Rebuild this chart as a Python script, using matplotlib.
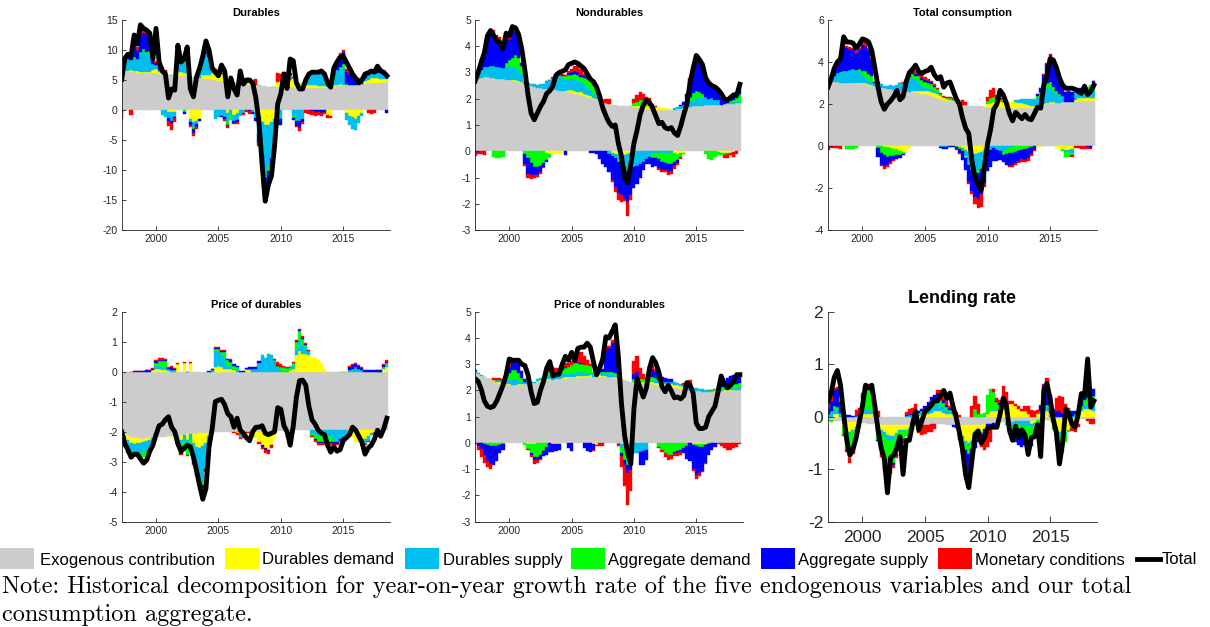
import numpy as np
import matplotlib.pyplot as plt
from matplotlib.patches import Rectangle
from matplotlib.lines import Line2D

plt.rcParams['font.family'] = ['Liberation Sans', 'DejaVu Sans']
plt.rcParams['axes.unicode_minus'] = False

# quarterly dates, 1997Q2 .. 2018Q3
quarters = 1997.25 + 0.25 * np.arange(86)
years = [2000, 2005, 2010, 2015]

labels = ['Exogenous contribution', 'Durables demand', 'Durables supply',
          'Aggregate demand', 'Aggregate supply', 'Monetary conditions']
colors = ['#cccccc', '#ffff00', '#00bfef', '#00ff00', '#0000ff', '#ff0000']

# ---------------- Durables ----------------
dur_total = [5.1, 8.6, 9.3, 8.9, 12.5, 11.0, 14.2, 13.6, 13.3, 12.8,
             8.5, 13.6, 8.0, 6.5, 6.0, 2.0, 3.5, 3.3, 10.8, 8.0,
             8.5, 10.5, 3.5, 2.2, 5.5, 7.0, 9.0, 11.5, 10.0, 7.0,
             6.3, 5.7, 7.5, 6.5, 2.2, 5.3, 3.5, 2.5, 6.5, 4.3,
             5.0, 5.0, 4.5, 2.0, -2.0, -9.0, -15.2, -12.5, -11.0, -6.0,
             1.0, 2.7, 6.0, 3.6, 8.5, 8.2, 4.5, 3.5, 3.5, 5.0,
             6.0, 6.3, 6.3, 6.3, 6.5, 6.0, 4.5, 3.8, 7.0, 8.0,
             8.8, 9.0, 8.0, 7.0, 6.0, 5.3, 4.5, 5.0, 6.0, 6.2,
             6.5, 6.3, 7.3, 6.5, 6.3, 5.7]
dur_exo = [6.4, 6.4, 6.35, 6.3, 6.3, 6.25, 6.2, 6.2, 6.15, 6.1,
           6.1, 6.1, 6.0, 6.0, 5.95, 5.9, 5.85, 5.8, 5.75, 5.7,
           5.65, 5.6, 5.55, 5.5, 5.45, 5.4, 5.3, 5.2, 5.1, 5.0,
           4.95, 4.9, 4.85, 4.8, 4.7, 4.6, 4.5, 4.45, 4.4, 4.35,
           4.3, 4.25, 4.2, 4.15, 4.1, 4.0, 3.95, 3.9, 3.9, 3.9,
           3.9, 3.85, 3.85, 3.8, 3.8, 3.8, 3.75, 3.75, 3.75, 3.7,
           3.7, 3.7, 3.7, 3.7, 3.72, 3.75, 3.8, 3.85, 3.9, 3.95,
           4.0, 4.05, 4.1, 4.15, 4.2, 4.25, 4.3, 4.35, 4.4, 4.45,
           4.5, 4.5, 4.55, 4.55, 4.6, 4.6]
dur_dd = [0, 0.2, 0.2, 0.3, 0.2, 0.2, 0.2, 0.2, 0.2, 0.2,
          0.6, 0.8, 0.3, 0.2, 0, -0.3, -0.4, -0.3, 0.8, 0.6,
          0.5, 0.6, -1.5, -2.0, -1.8, -1.5, 0.5, 0.6, 0.8, 1.2,
          1.5, 1.5, 1.2, 1.0, -0.5, 0.8, -0.8, -0.5, 0.5, 0.3,
          0.2, 0.2, 0, -0.3, -1.0, -2.0, -2.5, -2.5, -2.0, -1.5,
          0.8, 1.0, 1.5, 1.5, 1.2, 1.5, 1.0, 0.8, 0.8, 0.6,
          0.5, 0.5, 0.5, 0.3, 0.2, 0.2, -0.8, -1.0, 0.2, 0.3,
          0.3, 0.2, -0.5, -1.0, -1.2, -1.5, -1.0, -0.5, 0.5, 0.6,
          0.8, 0.8, 0.8, 0.7, 0.6, 0.5]
dur_ds = [0.3, 1.5, 2.0, 1.8, 2.0, 2.0, 3.0, 3.5, 3.0, 3.0,
          1.0, 0.6, 0.3, -0.8, -1.2, -1.0, -1.5, -0.8, 2.5, 2.0,
          2.5, 2.2, -0.5, -0.8, -0.5, 1.5, 3.0, 3.5, 3.0, 0.5,
          -1.5, -1.2, -1.0, -1.2, -1.5, -0.8, -1.0, -1.2, -1.0, -0.5,
          0.2, 0.2, -0.3, -1.0, -3.0, -5.0, -8.0, -7.0, -6.0, -3.0,
          -1.0, -1.5, 0.3, 0.5, 0.8, -1.0, -1.5, -1.8, -1.5, 1.0,
          1.5, 2.0, 2.0, 2.2, 2.0, 1.5, 0.5, 0.3, 1.5, 2.5,
          2.5, 3.0, -1.2, -1.5, -2.0, -1.8, -1.2, -0.5, 0.5, 0.8,
          1.0, 0.8, 0.8, 0.8, 0.6, 0.5]
dur_ad = [0, 0, 0, 0, 0.3, 0, 0.3, 0.2, 0.3, 0.5,
          0, 0, 0, 0, 0, 0, 0, 0, 0, 0,
          -0.3, 0, 0, -0.3, 0, 0, 0, 0, 0, 0,
          0, 0, 0, 0, -0.5, -0.8, 0, 0, 0, 0,
          0, 0, 0, 0, 0, -0.5, -0.8, -0.6, 0, 0,
          0, 0, 0, 0, 0, -0.3, -0.3, 0, 0, 0,
          0, 0, 0, 0, 0, 0, 0, 0, 0, 0,
          0.4, 0.5, 0.3, 0, 0, 0, 0, 0, 0, 0,
          0, 0, 0, 0.3, 0, 0.2]
dur_as = [-0.3, 0.3, 0.5, 1.0, 2.0, 1.5, 3.0, 2.8, 3.0, 2.5,
          0.5, 0.3, 0.5, 0.6, 0.5, -0.5, -0.5, -0.3, 0.2, 0.2,
          -0.3, 0.3, -0.5, -0.8, -0.5, -0.3, 0.2, 0.3, 0.2, 0,
          0, 0, -0.2, -0.3, -0.2, 0, -0.3, -0.3, 0, 0,
          0, -0.2, -0.3, -0.5, -1.5, -2.0, -2.5, -2.0, -1.5, -2.0,
          -1.5, -1.0, 0.2, 0.3, 0.2, -0.3, -0.8, -1.2, -0.5, 0,
          0, -0.2, -0.3, -0.3, -0.5, -0.3, 0, 0.3, 0.8, 1.0,
          2.0, 2.0, 2.0, 1.8, 1.5, 1.0, 0.8, 0.5, 0.3, 0.2,
          0.2, 0.3, 1.0, 0.5, 0.3, -0.5]
dur_mc = [-1.2, 0.2, 0.2, -0.8, 0.7, 0.5, 0.8, 0.7, 0.6, 0.5,
          0.1, 0.3, 0.2, 0.3, 0.2, -0.8, -1.0, -0.6, 0.2, 0.2,
          0.2, 0.2, -0.3, -0.4, -0.3, 0.2, 0.2, 0.2, 0.2, 0.3,
          0.3, 0.3, 0.2, -0.3, -0.3, 0.2, -0.3, -0.4, 0.3, -0.3,
          -0.3, -0.5, 0.2, 1.0, -0.5, -0.5, -1.0, -0.8, -0.5, -0.3,
          1.5, 1.2, 0.5, 0.3, 0.2, 0.2, -0.3, -0.5, -0.3, -0.5,
          -0.6, -0.7, -0.7, -0.6, -0.5, -0.4, -0.5, -0.3, 0.3, 0.3,
          0.3, 0.3, 0.4, 0.3, 0.2, 0.3, 0.3, 0.2, 0.2, -0.5,
          -0.6, -0.5, 0.3, 0.2, 0.2, 0.2]

# ---------------- Nondurables ----------------
nd_total = [2.67, 3.0, 3.4, 3.75, 4.4, 4.6, 4.4, 4.2, 4.15, 3.9,
            4.5, 4.4, 4.75, 4.7, 4.45, 3.9, 3.1, 2.15, 1.45, 1.2,
            1.45, 1.7, 1.9, 2.2, 2.3, 2.5, 2.9, 3.0, 3.05, 3.1,
            3.3, 3.35, 3.4, 3.35, 3.25, 3.15, 2.95, 2.75, 2.65, 2.45,
            2.1, 1.65, 1.35, 1.1, 0.95, 1.0, 0.3, -0.2, -1.0, -1.2,
            -0.5, 0.3, 0.8, 1.4, 1.75, 1.95, 1.85, 1.65, 1.35, 1.05,
            1.1, 0.9, 0.85, 0.9, 0.7, 0.6, 0.95, 1.4, 1.8, 2.6,
            3.15, 3.65, 3.5, 3.3, 2.8, 2.6, 2.5, 2.45, 2.35, 2.2,
            2.0, 1.95, 2.05, 2.15, 2.15, 2.55]
nd_exo = [2.68, 2.75, 2.8, 2.82, 2.82, 2.8, 2.78, 2.76, 2.75, 2.74,
          2.72, 2.7, 2.68, 2.66, 2.63, 2.6, 2.56, 2.52, 2.48, 2.45,
          2.42, 2.4, 2.38, 2.36, 2.35, 2.33, 2.32, 2.3, 2.28, 2.26,
          2.24, 2.22, 2.2, 2.17, 2.14, 2.1, 2.06, 2.02, 1.98, 1.94,
          1.9, 1.86, 1.82, 1.8, 1.77, 1.75, 1.74, 1.73, 1.72, 1.72,
          1.71, 1.7, 1.68, 1.66, 1.64, 1.62, 1.6, 1.59, 1.58, 1.57,
          1.56, 1.56, 1.56, 1.57, 1.58, 1.6, 1.62, 1.65, 1.68, 1.7,
          1.72, 1.73, 1.74, 1.74, 1.75, 1.75, 1.76, 1.76, 1.77, 1.78,
          1.79, 1.8, 1.8, 1.81, 1.82, 1.83]
nd_dd = [0, 0, 0, 0, 0, 0, 0, 0, 0, 0,
         0, 0.03, 0.04, 0.04, 0.04, 0.05, 0, 0, 0, 0,
         0, 0, 0, -0.05, -0.1, -0.12, -0.12, -0.1, -0.08, 0.05,
         0.08, 0.1, 0.1, 0.1, 0.1, 0.1, 0.08, 0.08, 0.05, 0.05,
         0.03, 0, 0, 0, -0.05, -0.1, -0.15, -0.2, -0.15, -0.1,
         -0.05, 0.03, 0.05, 0.08, 0.08, 0.1, 0.12, 0.12, 0.1, 0.1,
         0.1, 0.08, 0.06, 0.05, -0.05, -0.1, -0.08, -0.05, 0, 0,
         0, 0, 0, 0, 0, 0, 0, 0, -0.03, -0.05,
         -0.05, -0.05, -0.05, -0.03, 0, 0]
nd_ds = [0.1, 0.2, 0.3, 0.35, 0.35, 0.4, 0.45, 0.45, 0.45, 0.45,
         0.5, 0.5, 0.5, 0.5, 0.45, 0.3, 0.1, 0.08, 0.08, 0.1,
         0.12, 0.15, 0.2, 0.3, 0.35, 0.45, 0.5, 0.55, 0.5, 0.45,
         0.45, 0.45, 0.45, 0.45, 0.4, 0.35, 0.3, 0.25, 0.2, 0.15,
         0.1, 0.05, 0.03, -0.05, -0.08, -0.1, -0.15, -0.25, -0.35, -0.5,
         -0.6, -0.6, -0.55, -0.5, -0.4, -0.3, -0.2, -0.1, -0.05, -0.05,
         -0.05, -0.05, -0.05, -0.05, 0.05, 0.08, 0.1, 0.12, 0.15, 0.2,
         0.25, 0.3, 0.3, 0.3, 0.3, 0.25, 0.25, 0.2, 0.2, -0.05,
         -0.05, -0.05, 0.05, 0.05, 0.05, 0.05]
nd_ad = [0, 0, 0, 0.05, 0.05, 0.05, -0.2, -0.25, -0.25, -0.2,
         0.15, 0.25, 0.35, 0.45, 0.45, 0.3, -0.1, -0.25, -0.45, -0.6,
         -0.6, -0.55, -0.45, -0.3, -0.1, 0, 0, 0.05, 0.08, 0.1,
         0.12, 0.15, 0.2, 0.2, 0.2, 0.25, 0.3, 0.35, 0.3, 0.2,
         0.1, 0, 0, -0.05, -0.05, -0.05, -0.1, -0.1, -0.1, -0.15,
         -0.1, 0.1, 0.15, 0.2, 0.25, 0.2, 0.2, -0.15, -0.2, -0.25,
         -0.35, -0.4, -0.45, -0.45, -0.35, -0.25, -0.15, -0.05, 0.05, 0.15,
         0.25, 0.25, 0.2, 0.15, -0.1, -0.3, -0.35, -0.2, -0.1, -0.05,
         -0.05, 0.05, 0.05, 0.08, 0.15, 0.3]
nd_as = [-0.05, 0.15, 0.4, 0.65, 1.1, 1.25, 1.3, 1.1, 1.05, 0.8,
         0.9, 0.8, 1.0, 0.9, 0.8, 0.1, -0.4, -0.6, -0.45, -0.3,
         -0.3, -0.25, -0.15, -0.05, -0.02, 0, 0, 0.02, 0.05, -0.15,
         0.08, 0.1, 0.1, 0.1, 0.08, 0.05, 0.05, -0.05, -0.05, -0.1,
         -0.3, -0.5, -0.6, -0.7, -0.9, -1.1, -1.2, -1.1, -1.2, -1.2,
         -0.9, -0.8, -0.7, -0.5, -0.3, -0.2, -0.3, -0.35, -0.3, -0.35,
         -0.3, -0.25, -0.3, -0.25, -0.15, -0.1, 0.05, 0.1, 0.3, 0.7,
         1.0, 1.3, 1.2, 1.1, 0.8, 0.65, 0.55, 0.45, 0.35, 0.3,
         0.2, 0.1, 0.15, 0.25, 0.1, 0.35]
nd_mc = [-0.12, -0.12, -0.1, -0.15, 0.05, 0.08, 0.08, 0.1, 0.1, 0.08,
         0.18, 0.1, 0.15, 0.1, 0.05, 0, -0.05, -0.15, -0.15, -0.1,
         -0.08, -0.06, -0.05, 0, 0, 0.05, 0.05, 0.05, 0.05, 0.05,
         0.1, 0.12, 0.2, 0.25, 0.2, 0.1, 0.08, 0.05, 0.05, 0.05,
         0.1, 0.05, 0.15, 0.2, -0.1, -0.2, -0.25, -0.3, -0.1, -0.5,
         -0.2, 0.15, 0.25, 0.3, 0.2, 0.15, 0.1, 0.08, 0.06, -0.05,
         -0.08, -0.1, -0.12, -0.1, -0.12, -0.08, -0.05, 0, 0, 0.05,
         0.05, 0.08, 0.05, 0.03, 0, 0, 0, 0, 0, 0,
         -0.1, -0.15, -0.1, -0.2, -0.1, 0]

# ---------------- Total consumption ----------------
tc_total = [2.8, 3.2, 3.7, 4.0, 4.15, 5.2, 4.95, 4.95, 4.9, 4.65,
            4.85, 5.1, 5.05, 4.95, 4.55, 3.7, 2.8, 2.1, 1.75, 2.0,
            2.15, 2.35, 2.65, 2.2, 2.35, 3.05, 3.5, 3.65, 3.85, 3.55,
            3.45, 3.55, 3.6, 3.75, 3.4, 3.2, 3.3, 2.8, 3.0, 3.05,
            2.65, 2.25, 2.0, 1.35, 0.85, 0.6, -0.7, -1.5, -1.8, -2.1,
            -1.0, 0.1, 0.8, 1.75, 2.0, 2.65, 2.45, 2.05, 1.55, 1.2,
            1.6, 1.45, 1.3, 1.5, 1.3, 1.25, 1.55, 1.85, 1.8, 2.9,
            3.35, 4.15, 4.1, 3.75, 3.25, 2.9, 2.75, 2.75, 2.75, 2.7,
            2.6, 2.5, 2.85, 2.45, 2.6, 2.9]
tc_exo = [3.05, 3.05, 3.04, 3.03, 3.02, 3.01, 3.0, 2.99, 2.98, 2.97,
          2.96, 2.95, 2.93, 2.9, 2.87, 2.84, 2.81, 2.78, 2.75, 2.72,
          2.7, 2.68, 2.66, 2.64, 2.62, 2.6, 2.58, 2.56, 2.55, 2.53,
          2.5, 2.46, 2.42, 2.38, 2.33, 2.28, 2.24, 2.2, 2.16, 2.12,
          2.08, 2.04, 2.0, 1.97, 1.94, 1.92, 1.9, 1.9, 1.9, 1.89,
          1.88, 1.88, 1.87, 1.86, 1.85, 1.84, 1.83, 1.82, 1.81, 1.8,
          1.8, 1.8, 1.8, 1.8, 1.81, 1.82, 1.84, 1.87, 1.9, 1.95,
          2.0, 2.03, 2.05, 2.06, 2.07, 2.08, 2.09, 2.1, 2.1, 2.11,
          2.12, 2.13, 2.13, 2.14, 2.15, 2.15]
tc_dd = [0, 0, 0, 0, 0, 0, 0, 0.02, 0.03, 0.03,
         0.03, 0.04, 0.05, 0.05, 0.05, 0, 0, -0.02, -0.03, -0.05,
         -0.08, -0.12, -0.15, -0.25, -0.3, -0.25, -0.1, 0.05, 0.05, 0.08,
         0.1, 0.15, 0.18, 0.2, 0.2, 0.18, 0.15, 0.1, 0.08, 0.05,
         0.05, 0, -0.05, -0.1, -0.2, -0.3, -0.35, -0.4, -0.35, -0.3,
         -0.2, 0.1, 0.2, 0.25, 0.25, 0.25, 0.25, 0.3, 0.3, 0.3,
         0.3, 0.25, 0.25, 0.2, 0.15, 0.1, 0.05, -0.05, -0.05, 0.05,
         0.05, 0.05, 0.05, -0.1, -0.15, -0.15, -0.2, -0.2, -0.15, 0.1,
         0.15, 0.15, 0.15, 0.15, 0.15, 0.15]
tc_ds = [0.05, 0.15, 0.3, 0.4, 0.45, 0.5, 0.55, 0.6, 0.65, 0.6,
         0.55, 0.4, 0.3, 0.2, 0.15, 0.15, 0.2, 0.15, 0.1, 0.15,
         0.2, 0.2, 0.25, 0.35, 0.4, 0.5, 0.6, 0.65, 0.6, 0.5,
         0.3, 0.2, 0.15, 0.15, 0.1, 0.1, -0.05, -0.05, -0.05, 0.05,
         0.1, 0.05, -0.05, -0.1, -0.3, -0.5, -0.7, -0.8, -0.8, -0.7,
         -0.5, -0.3, -0.2, -0.1, -0.2, -0.25, -0.3, -0.2, -0.1, -0.05,
         0.1, 0.15, 0.2, 0.25, 0.3, 0.3, 0.3, 0.4, 0.5, 0.6,
         0.7, 0.7, 0.5, 0.4, 0.3, 0.3, -0.1, -0.15, -0.2, 0.3,
         0.35, 0.35, 0.35, 0.3, 0.3, 0.3]
tc_ad = [0, 0, 0, 0.05, 0.05, 0.05, -0.12, -0.15, -0.15, -0.1,
         0.15, 0.2, 0.3, 0.3, 0.25, 0, -0.1, -0.3, -0.4, -0.45,
         -0.4, -0.35, -0.3, -0.2, -0.1, 0.05, 0.1, 0.15, 0.15, 0.2,
         0.25, 0.25, 0.25, 0.2, 0.2, 0.15, 0.1, 0.05, 0.05, 0.05,
         0, -0.05, -0.05, -0.05, -0.05, -0.1, -0.1, -0.15, -0.15, -0.1,
         -0.05, 0.15, 0.2, 0.2, 0.15, 0.1, -0.15, -0.2, -0.25, -0.3,
         -0.3, -0.25, -0.2, -0.15, -0.1, -0.05, 0.05, 0.1, 0.15, 0.2,
         0.25, 0.25, 0.2, 0.15, 0.1, -0.1, -0.2, -0.15, -0.1, 0.05,
         0.05, 0.1, 0.15, 0.2, 0.3, 0.4]
tc_as = [-0.05, 0.1, 0.35, 0.55, 0.7, 1.3, 1.1, 1.0, 0.95, 0.85,
         0.9, 1.2, 1.2, 1.1, 0.8, 0.05, -0.4, -0.6, -0.5, -0.4,
         -0.3, -0.2, -0.15, -0.1, -0.05, 0, 0.05, 0.1, 0.1, 0.1,
         0.1, 0.1, 0.1, 0.1, 0.05, 0, -0.05, -0.1, -0.1, -0.05,
         -0.05, -0.1, -0.2, -0.4, -0.6, -0.8, -1.0, -1.1, -1.2, -1.2,
         -1.0, -0.9, -0.8, -0.6, -0.5, -0.4, -0.3, -0.5, -0.6, -0.55,
         -0.5, -0.45, -0.4, -0.5, -0.45, -0.35, -0.2, 0.1, 0.2, 0.6,
         0.9, 1.3, 1.2, 1.0, 0.8, 0.6, 0.5, 0.5, 0.45, 0.2,
         0.1, 0.05, 0.1, -0.05, -0.1, 0.1]
tc_mc = [-0.15, -0.1, -0.1, -0.1, -0.15, 0.08, 0.1, 0.1, 0.05, 0.05,
         0.1, 0.15, 0.15, 0.1, 0.05, 0, 0.02, -0.05, -0.15, -0.1,
         -0.08, -0.05, -0.03, 0, 0.03, 0.05, 0.1, 0.1, 0.1, 0.12,
         0.15, 0.12, 0.1, 0.08, 0.05, 0.05, 0.05, 0.05, 0.05, 0.05,
         0.05, -0.03, -0.05, 0.2, 0.15, -0.1, -0.15, -0.3, -0.45, -0.6,
         -0.2, 0.2, 0.4, 0.45, 0.2, 0.1, 0.05, 0.05, -0.05, -0.1,
         -0.1, -0.1, -0.15, -0.1, -0.15, -0.1, -0.05, 0, 0, 0.05,
         0.05, 0.05, 0.05, 0.03, 0.02, 0, 0, 0, -0.05, -0.1,
         -0.1, -0.15, -0.15, -0.1, -0.05, 0]

# ---------------- Price of durables ----------------
pd_total = [-2.0, -2.4, -2.6, -2.85, -2.75, -2.75, -2.9, -3.05, -2.95, -2.65,
            -2.45, -2.1, -1.8, -1.75, -1.6, -1.5, -1.85, -2.0, -2.4, -2.65,
            -2.55, -2.45, -2.5, -2.85, -3.3, -3.8, -4.25, -3.9, -2.5, -1.9,
            -1.0, -0.95, -0.92, -1.1, -1.4, -1.5, -1.85, -1.55, -1.95, -2.05,
            -2.2, -2.3, -2.0, -1.85, -1.85, -1.8, -2.05, -2.1, -2.05, -2.0,
            -1.2, -1.25, -1.8, -2.0, -2.45, -1.8, -0.85, -0.3, -0.28, -0.45,
            -1.15, -1.6, -1.75, -1.95, -2.05, -2.1, -2.45, -2.68, -2.5, -2.65,
            -2.6, -2.3, -2.2, -2.1, -1.85, -1.95, -2.15, -2.35, -2.75, -2.55,
            -2.45, -2.25, -1.95, -2.15, -1.9, -1.55]
pd_exo = [-1.95, -2.05, -2.12, -2.17, -2.2, -2.22, -2.23, -2.23, -2.22, -2.21,
          -2.2, -2.19, -2.18, -2.17, -2.16, -2.15, -2.14, -2.13, -2.12, -2.11,
          -2.1, -2.09, -2.08, -2.07, -2.06, -2.05, -2.04, -2.03, -2.03, -2.02,
          -2.02, -2.01, -2.01, -2.0, -2.0, -2.0, -2.0, -2.0, -2.0, -2.0,
          -2.0, -2.0, -2.0, -2.0, -2.0, -2.0, -2.0, -2.0, -2.0, -2.0,
          -1.98, -1.98, -1.97, -1.97, -1.96, -1.96, -1.95, -1.95, -1.95, -1.94,
          -1.94, -1.93, -1.93, -1.93, -1.93, -1.93, -1.93, -1.93, -1.93, -1.93,
          -1.93, -1.93, -1.93, -1.93, -1.93, -1.93, -1.94, -1.94, -1.94, -1.95,
          -1.95, -1.95, -1.95, -1.95, -1.95, -1.95]
pd_dd = [-0.05, -0.1, -0.15, -0.2, -0.2, -0.15, -0.15, -0.1, -0.1, -0.05,
         0.05, 0.1, 0.1, 0.05, 0.05, 0.02, -0.05, -0.05, 0.25, -0.15,
         0.3, -0.2, 0.3, -0.3, -0.45, -0.5, -0.45, -0.35, -0.1, 0,
         0.15, 0.2, 0.15, 0.1, 0.08, 0.08, 0.05, -0.05, -0.05, -0.05,
         0.05, 0.05, -0.1, -0.2, -0.35, -0.45, -0.55, -0.6, -0.45, -0.2,
         0, 0, 0, 0, 0.05, 0.1, 0.55, 0.7, 0.6, 0.6,
         0.55, 0.5, 0.45, 0.4, 0.3, 0.1, 0, 0, -0.02, -0.02,
         -0.02, 0, 0, -0.1, -0.25, -0.4, -0.4, -0.35, -0.3, -0.2,
         -0.1, -0.05, -0.05, 0, 0.1, 0.15]
pd_ds = [-0.15, -0.25, -0.3, -0.3, -0.3, -0.35, -0.35, -0.35, -0.35, -0.3,
         -0.25, 0.1, 0.1, 0.1, 0.1, 0.03, 0.05, 0.05, -0.1, -0.15,
         -0.2, -0.2, -0.2, -0.4, -0.7, -1.0, -1.2, -0.8, -0.3, 0.05,
         0.55, 0.5, 0.45, 0.35, 0.1, 0.1, 0.05, 0.1, -0.15, -0.1,
         0.05, 0.05, 0.1, 0.1, 0.3, 0.55, 0.45, 0.6, 0.55, 0.35,
         0.15, 0.05, 0, 0.02, 0.05, 0.1, 0.2, 0.35, 0.3, 0.2,
         0.1, -0.15, -0.2, -0.2, -0.15, -0.15, -0.2, -0.25, -0.3, -0.35,
         -0.3, -0.25, -0.2, 0.05, 0.1, 0.15, 0.1, 0.05, -0.15, -0.15,
         -0.05, -0.05, 0, 0, 0.02, 0.05]
pd_ad = [0, -0.02, -0.05, -0.08, -0.1, -0.12, -0.15, -0.15, -0.12, -0.05,
         0.02, 0.1, 0.15, 0.2, 0.2, 0.05, 0.02, 0, -0.2, -0.3,
         -0.35, -0.3, -0.3, -0.25, -0.15, -0.1, -0.1, -0.05, 0, 0,
         0.05, 0.05, 0.05, 0.2, 0.2, 0.15, 0.1, 0.05, 0, 0,
         0, 0, 0, 0, 0, 0, 0, 0, 0.02, 0.05,
         0.05, 0.1, 0.15, 0.1, 0.05, 0.1, 0.25, 0.3, 0.2, 0.1,
         0.05, -0.05, -0.1, -0.2, -0.25, -0.25, -0.2, -0.15, -0.1, -0.05,
         0, 0, 0, 0, 0, 0, 0, 0, -0.02, -0.02,
         0, 0, 0, 0, 0.05, 0.08]
pd_as = [-0.05, -0.05, -0.05, -0.05, 0.02, 0.02, 0.02, 0.02, 0.05, 0.05,
         0.03, 0.05, 0.05, 0.05, 0.05, 0.03, 0.08, 0.05, 0.02, -0.03,
         0, 0, 0, -0.05, -0.05, -0.05, -0.1, -0.05, 0.02, 0.03,
         0.03, 0.03, 0.03, 0.03, 0.03, 0.05, 0.05, 0.05, 0.03, 0.03,
         0.03, 0.05, 0.05, 0.05, 0.05, -0.05, -0.05, -0.05, -0.03, 0,
         0.02, 0.02, 0, 0, 0, 0, 0.02, 0.03, 0.03, 0.02,
         0, -0.02, -0.05, -0.05, -0.05, -0.05, -0.05, -0.05, -0.05, -0.05,
         -0.05, -0.05, -0.03, 0.1, 0.12, 0.1, 0.08, 0.08, 0.07, 0.07,
         0.07, 0.07, 0.07, 0.07, 0.05, 0.05]
pd_mc = [-0.05, -0.05, -0.05, 0, 0.02, 0.02, 0.02, 0.02, 0.02, 0.02,
         0.02, 0.05, 0.05, 0.05, 0.03, 0.02, 0.05, 0.02, 0.02, -0.05,
         0.02, -0.03, 0.02, -0.03, -0.05, -0.05, -0.1, -0.05, -0.03, 0.02,
         0.05, 0.05, 0.05, 0.05, 0.03, 0.03, -0.05, -0.05, -0.05, -0.05,
         -0.03, -0.03, -0.03, 0.02, -0.05, -0.08, -0.1, -0.08, -0.05, 0.02,
         0.1, 0.08, 0.05, 0.03, 0.02, 0.02, 0.05, 0.05, 0.05, 0.05,
         0.03, -0.03, -0.05, -0.05, -0.05, -0.05, -0.05, -0.05, -0.05, -0.05,
         -0.05, -0.05, -0.05, 0.03, 0.05, 0.05, 0.03, 0.02, -0.02, -0.02,
         -0.02, -0.02, 0, 0, 0.03, 0.05]

# ---------------- Price of nondurables ----------------
pn_total = [2.45, 2.35, 2.05, 1.6, 1.4, 1.35, 1.4, 1.6, 1.9, 2.2,
            2.6, 3.2, 3.15, 3.15, 3.15, 3.0, 2.95, 2.6, 1.95, 1.5,
            1.55, 2.0, 2.35, 2.85, 3.1, 2.55, 2.6, 2.62, 3.0, 3.3,
            3.15, 3.45, 3.15, 3.6, 3.65, 3.65, 3.8, 3.65, 3.1, 2.6,
            2.85, 3.2, 4.05, 4.0, 4.25, 4.5, 3.3, 1.5, 0.3, -0.4,
            -0.8, 1.3, 2.45, 2.1, 1.75, 2.1, 2.85, 3.25, 3.05, 2.7,
            2.15, 1.95, 2.2, 1.98, 1.72, 1.75, 1.68, 1.8, 2.3, 2.2,
            1.9, 0.75, 0.55, 0.55, 0.6, 1.0, 1.2, 1.4, 1.95, 2.55,
            2.25, 2.1, 2.2, 2.35, 2.6, 2.6]
pn_exo = [2.68, 2.62, 2.56, 2.5, 2.45, 2.4, 2.35, 2.3, 2.26, 2.22,
          2.2, 2.2, 2.2, 2.2, 2.21, 2.22, 2.24, 2.26, 2.28, 2.3,
          2.32, 2.34, 2.36, 2.38, 2.4, 2.41, 2.42, 2.43, 2.44, 2.45,
          2.46, 2.47, 2.48, 2.49, 2.5, 2.5, 2.51, 2.52, 2.52, 2.52,
          2.52, 2.52, 2.52, 2.51, 2.5, 2.48, 2.46, 2.43, 2.4, 2.37,
          2.34, 2.32, 2.3, 2.28, 2.27, 2.26, 2.25, 2.24, 2.22, 2.2,
          2.18, 2.16, 2.14, 2.12, 2.1, 2.08, 2.06, 2.04, 2.02, 2.0,
          1.99, 1.98, 1.97, 1.96, 1.96, 1.96, 1.96, 1.97, 1.97, 1.98,
          1.98, 1.99, 1.99, 2.0, 2.0, 2.0]
pn_dd = [0, 0, 0, 0, 0, 0.02, 0.03, 0.03, 0.05, 0.05,
         0.05, 0.03, 0.02, 0.02, 0.02, 0.02, -0.02, -0.03, -0.05, -0.05,
         0.05, 0.05, 0.05, 0.05, 0.05, -0.05, -0.05, -0.05, 0.05, 0.05,
         0.05, 0.05, 0.05, 0.05, 0.05, 0.05, 0.05, 0.05, -0.05, -0.08,
         0.05, 0.03, 0.03, 0.02, 0.02, 0.02, 0, -0.05, -0.05, -0.05,
         -0.03, 0.02, 0.05, 0.05, 0.05, 0.05, 0.08, 0.08, 0.08, 0.1,
         0.1, 0.1, 0.12, 0.12, 0.12, 0.12, 0.1, 0.08, 0.05, 0.03,
         -0.03, -0.05, -0.05, -0.05, -0.03, -0.02, 0, 0, 0, 0,
         0.02, 0.02, 0.02, 0.02, 0.02, 0.02]
pn_ds = [0.05, 0.05, 0.03, 0, 0, 0.02, 0.03, 0.05, 0.08, 0.1,
         0.15, 0.2, 0.2, 0.2, 0.15, 0.1, 0.08, 0.05, 0.03, 0.02,
         0.05, 0.08, 0.1, 0.15, 0.15, 0.15, 0.15, 0.15, 0.15, 0.15,
         0.15, 0.15, 0.15, 0.15, 0.15, 0.12, 0.1, 0.1, 0.1, 0.1,
         0.1, 0.1, 0.1, 0.1, 0.1, 0.05, -0.05, -0.15, -0.3, -0.45,
         -0.5, -0.4, -0.4, -0.35, -0.3, -0.25, 0.05, 0.05, 0.08, 0.08,
         0.08, 0.08, 0.08, 0.1, 0.1, 0.1, 0.1, 0.1, 0.1, 0.1,
         0.1, 0.1, 0.08, 0.08, 0.05, 0.05, 0.03, 0.03, 0.05, 0.05,
         0.05, 0.05, 0.08, 0.08, 0.08, 0.1]
pn_ad = [0, 0, -0.02, -0.05, -0.08, -0.1, -0.1, -0.1, -0.08, -0.05,
         0.1, 0.25, 0.35, 0.35, 0.3, 0.15, -0.05, -0.2, -0.35, -0.5,
         -0.55, -0.45, -0.3, -0.15, 0.1, 0.15, 0.15, 0.15, 0.15, 0.2,
         0.25, 0.3, 0.35, 0.35, 0.3, 0.3, 0.3, 0.25, 0.1, 0.08,
         0.05, 0.05, 0.05, 0.08, 0.1, 0.1, 0.05, -0.2, -0.3, -0.35,
         -0.3, 0.1, 0.12, 0.12, 0.1, 0.08, 0.15, 0.15, 0.1, -0.15,
         -0.25, -0.4, -0.45, -0.45, -0.35, -0.3, -0.25, -0.2, -0.1, 0.08,
         -0.05, -0.08, -0.1, -0.1, -0.05, -0.02, 0.02, 0.05, 0.08, 0.12,
         0.12, 0.15, 0.15, 0.15, 0.15, 0.15]
pn_as = [0.05, -0.1, -0.2, -0.4, -0.6, -0.7, -0.75, -0.6, -0.3, -0.2,
         0.1, 0.2, 0.3, 0.3, 0.35, 0.25, 0.1, 0.05, -0.05, -0.1,
         -0.1, -0.15, -0.2, -0.3, -0.35, -0.3, -0.25, -0.2, 0.05, 0.05,
         -0.2, -0.3, 0.05, 0.05, 0.05, -0.2, -0.3, -0.35, -0.2, 0.1,
         0.05, 0.1, 0.8, 0.9, 1.1, 1.2, 0.3, -0.1, -0.2, -0.3,
         -0.2, 0.2, 0.25, -0.5, -0.55, -0.4, 0.2, 0.3, 0.25, 0.15,
         0.15, 0.12, 0.1, 0.08, -0.05, -0.1, -0.1, -0.2, -0.5, -0.7,
         -0.9, -1.1, -1.0, -0.9, -0.7, -0.4, -0.25, -0.15, 0.1, 0.15,
         0.2, 0.25, 0.3, 0.35, 0.4, 0.35]
pn_mc = [-0.05, -0.15, -0.3, -0.3, -0.25, -0.2, 0.05, 0.08, 0.1, 0.05,
         0.02, 0.05, 0.05, 0.08, 0.05, 0.02, 0.02, -0.05, -0.1, -0.15,
         -0.1, -0.05, 0.02, 0.02, 0.2, 0.2, 0.15, 0.1, 0.1, 0.15,
         0.15, 0.15, 0.1, 0.3, 0.4, 0.35, 0.2, 0.1, -0.05, -0.05,
         -0.1, -0.1, 0.1, 0.1, 0.1, 0.08, -0.05, -0.4, -0.8, -1.2,
         -0.8, 0.5, 0.6, 0.4, 0.2, 0.1, 0.1, 0.15, 0.1, -0.05,
         -0.1, -0.15, -0.2, -0.15, -0.1, -0.1, -0.1, 0.05, 0.15, 0.2,
         -0.1, -0.15, -0.1, -0.05, -0.02, 0, 0, 0, -0.05, -0.1,
         -0.2, -0.25, -0.25, -0.2, -0.15, -0.05]

# ---------------- Lending rate ----------------
lr_total = [0.3, 0.45, 0.75, 0.88, 0.6, 0.05, -0.45, -0.73, -0.62, -0.4,
            -0.1, 0.2, 0.6, 0.55, 0.6, 0.2, -0.25, -0.6, -0.8, -1.45,
            -0.78, -0.73, -0.6, -0.38, -1.1, -0.45, -0.45, -0.15, 0.1, -0.25,
            -0.08, 0.1, 0.15, 0.22, 0.3, 0.3, 0.41, 0.5, 0.35, 0.45,
            0.19, -0.02, -0.3, -0.62, -1.11, -1.35, -0.85, -0.33, -0.27, -0.5,
            -0.4, -0.22, -0.2, -0.2, -0.2, 0.05, 0.35, 0.22, -0.25, -0.45,
            -0.18, -0.4, -0.25, -0.35, -0.72, -0.4, -0.38, -0.15, -0.76, 0.5,
            0.63, 0.35, -0.05, -0.3, -0.9, -0.5, 0.15, 0.05, -0.15, -0.2,
            0.05, 0.44, 0.4, 1.1, 0.18, 0.3]
lr_exo = [-0.06, -0.07, -0.08, -0.08, -0.09, -0.09, -0.1, -0.1, -0.1, -0.1,
          -0.11, -0.12, -0.12, -0.13, -0.13, -0.14, -0.14, -0.15, -0.15, -0.15,
          -0.16, -0.16, -0.16, -0.16, -0.16, -0.16, -0.16, -0.16, -0.16, -0.16,
          -0.15, -0.15, -0.15, -0.14, -0.14, -0.14, -0.14, -0.14, -0.15, -0.15,
          -0.15, -0.16, -0.16, -0.16, -0.16, -0.16, -0.16, -0.16, -0.16, -0.15,
          -0.14, -0.13, -0.13, -0.12, -0.12, -0.11, -0.11, -0.1, -0.1, -0.1,
          -0.09, -0.09, -0.09, -0.08, -0.08, -0.08, -0.07, -0.07, -0.07, -0.06,
          -0.06, -0.06, -0.05, -0.05, -0.05, -0.05, -0.05, -0.05, -0.04, -0.04,
          -0.04, -0.04, -0.04, -0.04, -0.04, -0.04]
lr_dd = [0, 0, 0.05, 0.05, 0, -0.1, -0.15, -0.2, -0.15, -0.1,
         -0.05, 0.05, 0.05, 0.05, 0.05, 0, -0.05, -0.1, -0.15, -0.2,
         -0.2, -0.2, -0.15, -0.1, -0.1, -0.1, -0.05, -0.05, 0.02, 0.02,
         0.03, 0.05, 0.05, 0.08, 0.1, 0.1, 0.1, 0.08, 0.05, 0.05,
         0.03, 0, -0.1, -0.2, -0.3, -0.35, -0.3, -0.25, -0.2, -0.15,
         -0.1, 0.05, 0.1, 0.1, 0.1, 0.1, 0.15, 0.2, 0.25, 0.25,
         0.2, 0.15, 0.1, 0.1, 0.05, -0.05, -0.05, 0.05, 0.05, 0.1,
         0.1, -0.05, -0.1, -0.15, -0.25, -0.3, -0.25, -0.2, -0.15, -0.15,
         -0.1, 0.1, 0.15, 0.15, 0.15, 0.1]
lr_ds = [0.05, 0.1, 0.1, 0.08, 0.05, 0.03, -0.02, -0.03, -0.03, 0.02,
         0.05, 0.1, 0.1, 0.1, 0.08, 0.02, -0.05, -0.08, -0.1, -0.1,
         -0.1, -0.08, -0.05, -0.03, -0.02, 0.02, 0.03, 0.03, 0.03, 0.03,
         0.05, 0.05, 0.08, 0.1, 0.12, 0.15, 0.12, 0.1, 0.08, 0.05,
         0.03, 0.02, -0.03, -0.05, -0.05, -0.05, -0.05, -0.03, -0.02, -0.02,
         0.02, 0.02, 0.03, 0.03, 0.03, 0.03, 0.03, 0.03, -0.03, -0.05,
         -0.05, -0.05, -0.08, -0.1, -0.1, -0.08, -0.05, 0.03, 0.05, 0.08,
         0.08, 0.05, 0.03, -0.03, -0.05, -0.05, -0.03, 0.02, 0.02, 0.03,
         0.03, 0.05, 0.08, 0.1, 0.1, 0.1]
lr_ad = [-0.03, -0.03, 0.05, 0.05, 0.02, -0.15, -0.35, -0.45, -0.35, -0.2,
         -0.05, 0.2, 0.35, 0.4, 0.35, 0.05, -0.2, -0.35, -0.5, -0.55,
         -0.5, -0.45, -0.35, -0.25, -0.15, -0.1, -0.08, -0.05, 0.03, 0.03,
         0.03, 0.05, 0.05, 0.08, 0.08, 0.1, 0.1, 0.08, 0.05, 0.03,
         0.02, 0.02, -0.05, -0.1, -0.12, -0.15, -0.1, 0.15, 0.05, 0.05,
         0.05, 0.35, 0.4, 0.35, 0.15, 0.1, 0.05, -0.05, -0.1, -0.1,
         -0.1, -0.1, -0.15, -0.25, -0.35, -0.3, -0.2, -0.1, -0.05, 0.05,
         0.05, 0.03, -0.1, -0.25, -0.45, -0.3, -0.15, -0.05, -0.03, 0.02,
         0.05, 0.05, 0.08, 0.1, 0.15, 0.2]
lr_as = [0.1, 0.2, 0.3, 0.35, 0.2, 0.05, 0.03, 0.03, 0.02, 0,
         0, 0.05, 0.05, 0.05, 0.05, 0, -0.02, -0.03, -0.05, -0.05,
         -0.05, -0.03, -0.03, -0.02, -0.02, 0.02, 0.03, 0.03, 0.02, 0.02,
         0.03, 0.05, 0.1, 0.12, 0.12, 0.1, 0.08, 0.05, 0.05, 0.03,
         -0.05, -0.05, -0.1, -0.15, -0.25, -0.3, -0.25, -0.15, -0.1, -0.05,
         -0.05, -0.05, -0.05, -0.03, 0.02, 0.03, 0.05, 0.05, -0.1, -0.2,
         -0.25, -0.3, -0.25, -0.1, -0.05, -0.05, -0.05, -0.05, 0.1, 0.35,
         0.45, 0.3, 0.1, 0.1, 0.1, 0.08, 0.1, 0.1, 0.08, 0.05,
         0.05, 0.08, 0.1, 0.1, 0.1, 0.12]
lr_mc = [0.15, 0.12, 0.05, 0.03, 0.02, -0.02, -0.05, -0.1, -0.08, 0.1,
         0.12, 0.05, 0.03, 0.03, 0.03, 0.1, 0.1, -0.05, -0.08, -0.1,
         -0.08, -0.05, -0.05, -0.05, -0.05, 0.05, 0.08, 0.1, 0.15, -0.15,
         -0.2, -0.18, -0.15, -0.15, -0.1, 0.05, 0.1, 0.15, 0.1, 0.05,
         0.1, 0.05, 0.03, -0.05, -0.1, -0.15, 0.2, 0.25, 0.2, -0.2,
         -0.35, -0.4, -0.3, 0.05, 0.05, 0.05, 0.3, 0.2, 0.05, 0.05,
         0.05, 0.05, 0.05, 0.1, 0.15, 0.12, 0.1, 0.05, 0.03, 0.05,
         0.05, 0.03, 0.02, 0.25, 0.3, 0.3, 0.15, 0.05, -0.05, -0.1,
         -0.05, 0.03, 0.03, -0.05, -0.1, -0.1]

W, H = 1210, 627
fig = plt.figure(figsize=(W / 100, H / 100), dpi=100)


def box(l, t, r, b):
    return [l / W, 1 - b / H, (r - l) / W, (b - t) / H]


def panel(rect, parts, total, title, ylim, yticks, big=False):
    ax = fig.add_axes(rect)
    pos = np.zeros(len(quarters))
    neg = np.zeros(len(quarters))
    for vals, c in zip(parts, colors):
        v = np.asarray(vals, dtype=float)
        ax.bar(quarters, v, width=0.25, bottom=np.where(v >= 0, pos, neg),
               color=c, edgecolor=c, linewidth=0.3)
        pos += np.clip(v, 0, None)
        neg += np.clip(v, None, 0)
    ax.plot(quarters, total, color='k', lw=3.5)
    ax.set_xlim(1997.25, 2018.75)
    ax.set_ylim(*ylim)
    ax.set_xticks(years)
    ax.set_yticks(yticks)
    for s in ['top', 'right']:
        ax.spines[s].set_visible(False)
    for s in ['left', 'bottom']:
        ax.spines[s].set_color('#262626')
        ax.spines[s].set_linewidth(0.6)
    if big:
        ax.tick_params(direction='in', length=4, width=0.6, colors='#262626',
                       labelsize=12.5)
        ax.tick_params(axis='x', pad=6)
        ax.set_title(title, fontsize=13, fontweight='bold', pad=6)
    else:
        ax.tick_params(direction='in', length=3, width=0.6, colors='#262626',
                       labelsize=7.5, pad=3)
        ax.set_title(title, fontsize=8, fontweight='bold', pad=3)
    return ax


row1 = (20, 230)
row2 = (311.7, 521.7)
col1 = (121.7, 390)
col2 = (475, 743)
col3 = (828, 1097)

panel(box(col1[0], row1[0], col1[1], row1[1]),
      [dur_exo, dur_dd, dur_ds, dur_ad, dur_as, dur_mc], dur_total,
      'Durables', (-20, 15), range(-20, 16, 5))
panel(box(col2[0], row1[0], col2[1], row1[1]),
      [nd_exo, nd_dd, nd_ds, nd_ad, nd_as, nd_mc], nd_total,
      'Nondurables', (-3, 5), range(-3, 6))
panel(box(col3[0], row1[0], col3[1], row1[1]),
      [tc_exo, tc_dd, tc_ds, tc_ad, tc_as, tc_mc], tc_total,
      'Total consumption', (-4, 6), range(-4, 7, 2))
panel(box(col1[0], row2[0], col1[1], row2[1]),
      [pd_exo, pd_dd, pd_ds, pd_ad, pd_as, pd_mc], pd_total,
      'Price of durables', (-5, 2), range(-5, 3))
panel(box(col2[0], row2[0], col2[1], row2[1]),
      [pn_exo, pn_dd, pn_ds, pn_ad, pn_as, pn_mc], pn_total,
      'Price of nondurables', (-3, 5), range(-3, 6))
panel(box(col3[0], row2[0], col3[1], row2[1]),
      [lr_exo, lr_dd, lr_ds, lr_ad, lr_as, lr_mc], lr_total,
      'Lending rate', (-2, 2), range(-2, 3), big=True)

# legend row, drawn by hand across the figure
patch_x = [0, 225, 405, 571, 761, 938]
text_x = [40, 262, 443, 608, 798, 975]
for px, tx, lab, c in zip(patch_x, text_x, labels, colors):
    fig.add_artist(Rectangle((px / W, 1 - 569 / H), 34 / W, 21 / H,
                             transform=fig.transFigure, facecolor=c,
                             edgecolor='none'))
    fig.text(tx / W, 1 - 560 / H, lab, fontsize=12, va='center', ha='left')
fig.add_artist(Line2D([1137 / W, 1160 / W], [1 - 559 / H, 1 - 559 / H],
                      transform=fig.transFigure, color='k', lw=3.5))
fig.text(1162 / W, 1 - 560 / H, 'Total', fontsize=12, va='center', ha='left')

fig.text(2 / W, 1 - 593 / H,
         'Note: Historical decomposition for year-on-year growth rate of the '
         'five endogenous variables and our total',
         fontfamily='cmr10', fontsize=17.5, va='baseline', ha='left')
fig.text(2 / W, 1 - 621 / H, 'consumption aggregate.',
         fontfamily='cmr10', fontsize=17.5, va='baseline', ha='left')

fig.savefig('out.png', dpi=100, facecolor='white')
